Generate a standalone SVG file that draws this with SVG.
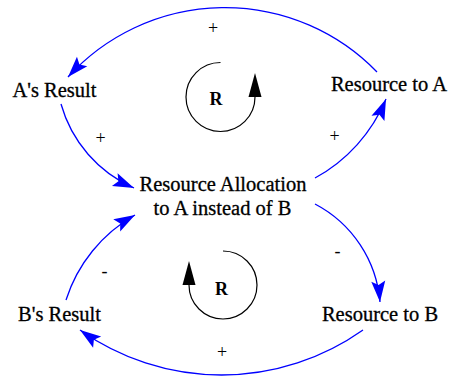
<svg xmlns="http://www.w3.org/2000/svg" width="451" height="379" viewBox="0 0 451 379">
<style>
.node{font-family:'Liberation Serif','Times New Roman',serif;font-size:20.5px;fill:#000;stroke:#000;stroke-width:0.3;text-anchor:middle}
.pol{font-family:'Liberation Serif','Times New Roman',serif;font-size:18px;fill:#000;text-anchor:middle}
.loopR{font-family:'Liberation Serif','Times New Roman',serif;font-size:18px;font-weight:bold;fill:#000;text-anchor:middle}
.link{fill:none;stroke:#0000ff;stroke-width:1.3;marker-end:url(#ah)}
.loop{fill:none;stroke:#000;stroke-width:1.2;marker-end:url(#bh)}
</style>
<defs>
<marker id="ah" markerUnits="userSpaceOnUse" orient="auto" overflow="visible" markerWidth="1" markerHeight="1" refX="0" refY="0">
<path d="M0,0 L-21,-7 L-17,0 L-21,7 Z" fill="#0000ff"/>
</marker>
<marker id="bh" markerUnits="userSpaceOnUse" orient="auto" overflow="visible" markerWidth="1" markerHeight="1" refX="0" refY="0">
<path d="M0,-6.5 L24,0 L0,6.5 Z" fill="#000"/>
</marker>
</defs>
<rect width="451" height="379" fill="#fff"/>
<g id="connectors">
<path class="link" d="M377,72 A212,212 0 0 0 68,77"/>
<path class="link" d="M61,104 A130,130 0 0 0 134,188"/>
<path class="link" d="M315,178 A160,160 0 0 0 386,99"/>
<path class="link" d="M315,204 A122,122 0 0 1 380,302"/>
<path class="link" d="M363,330 A245,245 0 0 1 80,330"/>
<path class="link" d="M66,300 A150,150 0 0 1 135,215"/>
</g>
<g id="polarities">
<text class="pol" x="213" y="34">+</text>
<text class="pol" x="100.5" y="144">+</text>
<text class="pol" x="334.5" y="142">+</text>
<text class="pol" x="337.5" y="257">-</text>
<text class="pol" x="104.5" y="277">-</text>
<text class="pol" x="222" y="358">+</text>
</g>
<g id="loop-top">
<path class="loop" d="M220.5,62.5 A34.5,34.5 0 1 0 255,97"/>
<text class="loopR" x="216" y="105">R</text>
</g>
<g id="loop-bottom">
<path class="loop" d="M223,251 A34,34 0 1 1 189,285"/>
<text class="loopR" x="221.5" y="295">R</text>
</g>
<g id="node-a-result"><text class="node" x="54.5" y="97">A's Result</text></g>
<g id="node-resource-a"><text class="node" x="389" y="91">Resource to A</text></g>
<g id="node-allocation"><text class="node" x="223" y="191">Resource Allocation</text><text class="node" x="222.5" y="215">to A instead of B</text></g>
<g id="node-b-result"><text class="node" x="59.5" y="321">B's Result</text></g>
<g id="node-resource-b"><text class="node" x="380" y="321">Resource to B</text></g>
</svg>
